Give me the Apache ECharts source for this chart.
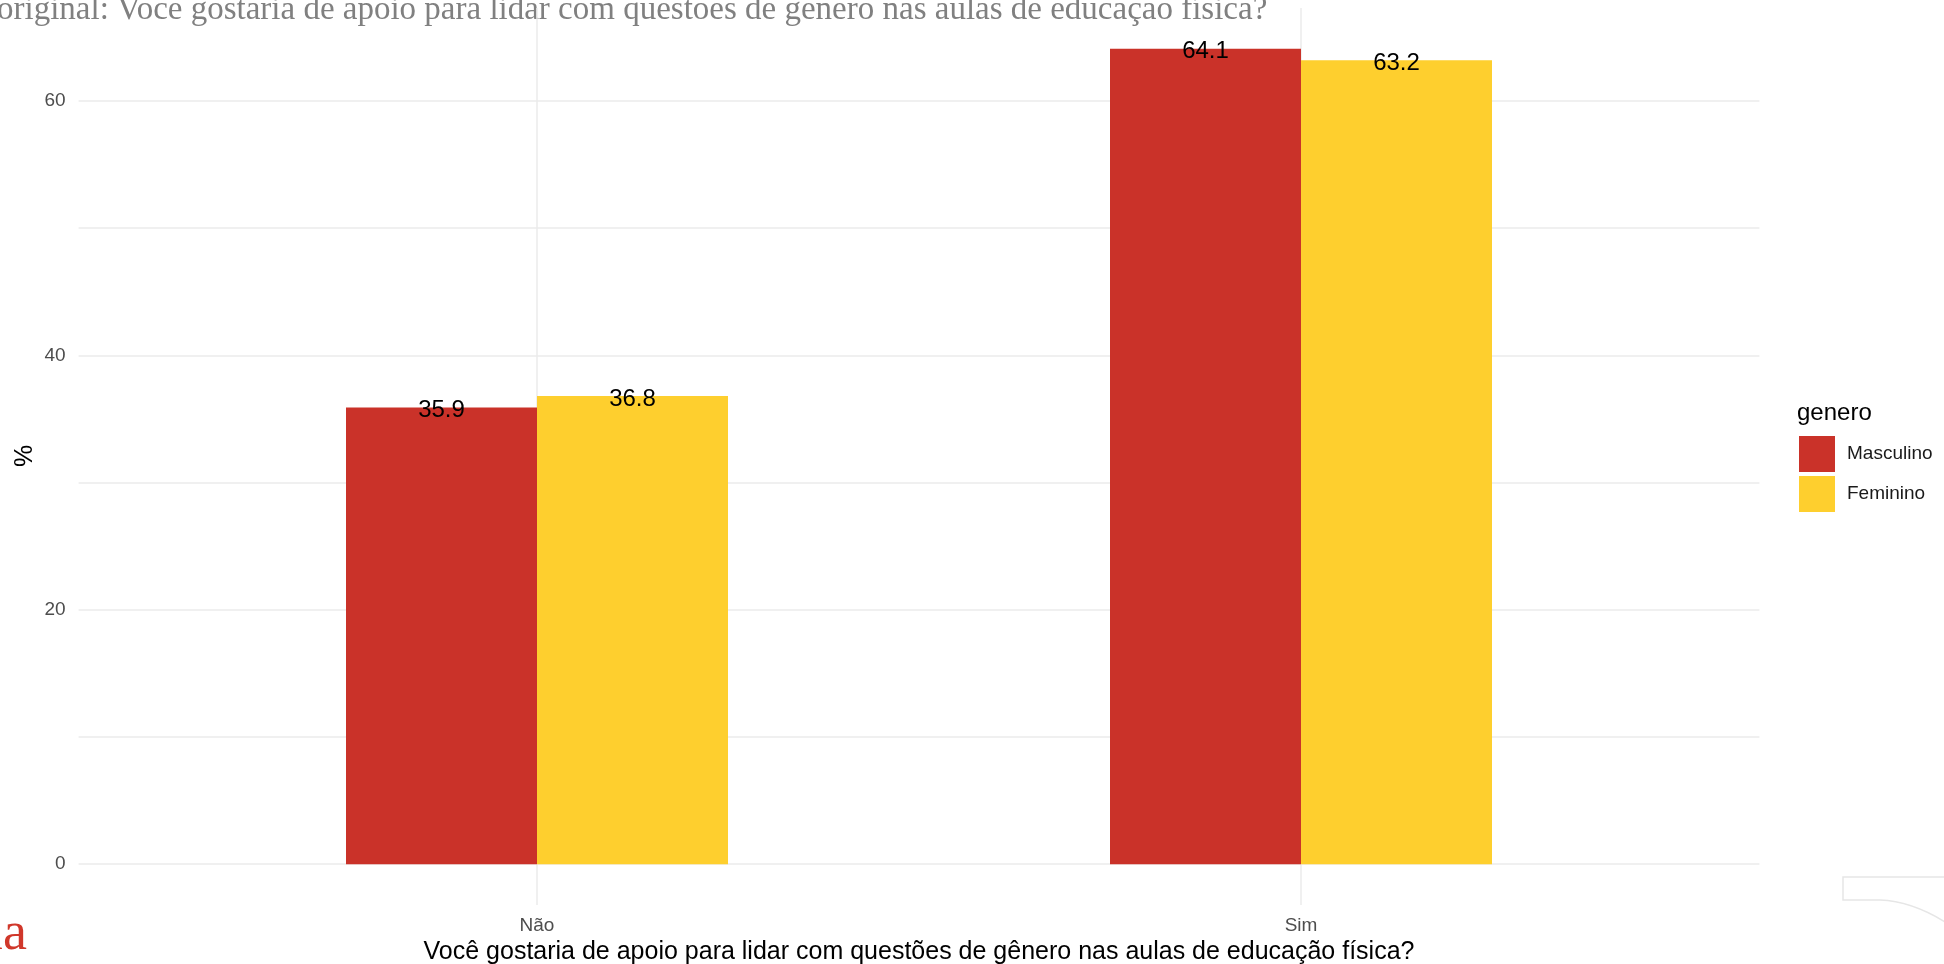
<!DOCTYPE html>
<html>
<head>
<meta charset="utf-8">
<style>
  html, body { margin: 0; padding: 0; background: #ffffff; }
  #chart { width: 1944px; height: 964px; }
</style>
<script src="https://cdn.jsdelivr.net/npm/echarts@6/dist/echarts.min.js"></script>
</head>
<body>
<div id="chart"></div>
<script>
const categories = ['Não', 'Sim'];
const seriesNames = ['Masculino', 'Feminino'];
const masculino = [35.9, 64.1];
const feminino = [36.8, 63.2];
const yTickLabels = [0, 20, 40, 60];
const yGridValues = [0, 10, 20, 30, 40, 50, 60];
const titleText = 'original: Você gostaria de apoio para lidar com questões de gênero nas aulas de educação física?';
const xTitle = 'Você gostaria de apoio para lidar com questões de gênero nas aulas de educação física?';
const yTitle = '%';
const legendTitle = 'genero';

const colors = ['#CA3229', '#FECF2E'];
const sans = '"Liberation Sans", Arial, sans-serif';

const chart = echarts.init(document.getElementById('chart'), null, { renderer: 'canvas' });

function makeSeries(name, values, color) {
  return {
    name: name,
    type: 'bar',
    barWidth: 191,
    barGap: '0%',
    data: values.map((v, i) => [i + 1, v]),
    itemStyle: { color: color },
    label: {
      show: true,
      position: 'top',
      distance: 0,
      offset: [0, 3],
      verticalAlign: 'middle',
      color: '#000000',
      fontFamily: sans,
      fontSize: 24,
      formatter: p => p.value[1].toFixed(1)
    },
    emphasis: { disabled: true },
    animation: false
  };
}

chart.setOption({
  backgroundColor: '#ffffff',
  animation: false,
  color: colors,
  grid: { left: 78.6, right: 184.6, top: 8, bottom: 59, containLabel: false },
  xAxis: {
    type: 'value',
    min: 0.4,
    max: 2.6,
    axisLine: { show: false },
    axisTick: { show: false, customValues: [1, 2] },
    axisLabel: {
      customValues: [1, 2],
      formatter: v => categories[Math.round(v) - 1] || '',
      color: '#4D4D4D',
      fontFamily: sans,
      fontSize: 19,
      margin: 11
    },
    splitLine: { show: true, lineStyle: { color: '#EBEBEB', width: 1.5 } }
  },
  yAxis: {
    type: 'value',
    min: -3.205,
    max: 67.305,
    axisLine: { show: false },
    axisTick: { show: false, customValues: yGridValues },
    axisLabel: {
      customValues: yTickLabels,
      color: '#4D4D4D',
      fontFamily: sans,
      fontSize: 19,
      margin: 13,
      padding: [4, 0, 0, 0]
    },
    splitLine: { show: true, lineStyle: { color: '#EBEBEB', width: 1.5 } }
  },
  legend: {
    orient: 'vertical',
    left: 1799,
    top: 436,
    padding: 0,
    itemWidth: 36,
    itemHeight: 36,
    itemGap: 4,
    icon: 'rect',
    data: seriesNames,
    textStyle: { color: '#1a1a1a', fontFamily: sans, fontSize: 19, padding: [3, 0, 0, 7] },
    selectedMode: false
  },
  graphic: [
    {
      type: 'text', x: -3, y: 10, silent: true,
      style: { text: titleText, fill: '#808080', font: '33px "Liberation Serif", serif', align: 'left', verticalAlign: 'middle' }
    },
    {
      type: 'text', x: 919, y: 952, silent: true,
      style: { text: xTitle, fill: '#000000', font: '25px ' + sans, align: 'center', verticalAlign: 'middle' }
    },
    {
      type: 'text', x: 25, y: 456, rotation: Math.PI / 2, silent: true,
      style: { text: yTitle, fill: '#000000', font: '25px ' + sans, align: 'center', verticalAlign: 'middle' }
    },
    {
      type: 'text', x: 1797, y: 413, silent: true,
      style: { text: legendTitle, fill: '#000000', font: '24px ' + sans, align: 'left', verticalAlign: 'middle' }
    },
    {
      type: 'text', x: 27, y: 935, silent: true,
      style: { text: 'la', fill: '#D0372A', font: '54px "Liberation Serif", serif', align: 'right', verticalAlign: 'middle' }
    },
    {
      type: 'polyline', silent: true,
      shape: { points: [[1960, 877], [1843, 877], [1843, 900], [1880, 900]] },
      style: { stroke: '#E6E6E6', lineWidth: 1.5, fill: null }
    },
    {
      type: 'bezierCurve', silent: true,
      shape: { x1: 1880, y1: 900, cpx1: 1905, cpy1: 901, cpx2: 1930, cpy2: 910, x2: 1960, y2: 932 },
      style: { stroke: '#E6E6E6', lineWidth: 1.5, fill: null }
    }
  ],
  series: [
    makeSeries(seriesNames[0], masculino, colors[0]),
    makeSeries(seriesNames[1], feminino, colors[1])
  ]
});
</script>
</body>
</html>
